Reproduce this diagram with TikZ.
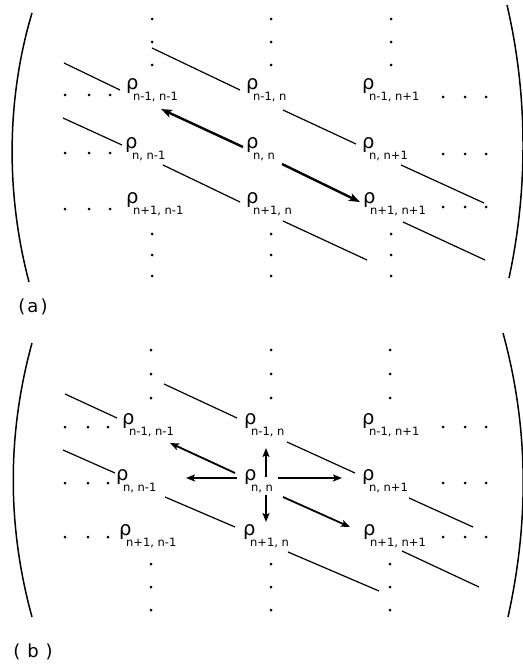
\documentclass[tikz,border=0pt]{standalone}
\usepackage{fontspec}
\setmainfont{DejaVu Sans}
\usetikzlibrary{arrows.meta,calc}
\newcommand{\ent}[1]{{\fontsize{19.5}{19.5}\selectfont ρ}\kern-5.5pt\raisebox{-11pt}{\fontsize{11.5}{11.5}\selectfont #1}}
\begin{document}
\begin{tikzpicture}[x=1pt,y=-1pt,
  entry/.style={inner sep=0pt, anchor=base west},
  link/.style={line width=1.2pt},
  arra/.style={line width=2.4pt, -{Stealth[length=11pt,width=8pt,inset=2.5pt]}},
  arrb/.style={line width=1.8pt, -{Stealth[length=9pt,width=7pt,inset=2pt]}},
  paren/.style={line width=1.5pt},
  lbl/.style={inner sep=0pt, font=\fontsize{18}{18}\selectfont}]
\useasboundingbox (0,0) rectangle (522,666);

% ---------- panel (a) ----------
\node[entry] (a11) at (126,90) {\ent{n-1, n-1}};
\node[entry] (a12) at (246,90) {\ent{n-1, n}};
\node[entry] (a13) at (362,90) {\ent{n-1, n+1}};
\node[entry] (a21) at (125,148) {\ent{n, n-1}};
\node[entry] (a22) at (246,148) {\ent{n, n}};
\node[entry] (a23) at (362,148) {\ent{n, n+1}};
\node[entry] (a31) at (126,203) {\ent{n+1, n-1}};
\node[entry] (a32) at (246,203) {\ent{n+1, n}};
\node[entry] (a33) at (363,203) {\ent{n+1, n+1}};

\foreach \y in {95,153,209} \foreach \x in {65,89,110} \fill (\x,\y) circle (1.5pt);
\foreach \y in {97,154,207} \foreach \x in {443,465,486} \fill (\x,\y) circle (1.5pt);
\foreach \x in {152,271,391} \foreach \y in {19,42,65,234,255,276} \fill (\x,\y) circle (1.5pt);

\draw[link] ($(a11.base west)+(-62,-27)$) -- ($(a11.base west)+(-6,0)$);
\draw[link] ($(a12.base west)+(-94,-42)$) -- ($(a12.base west)+(-6,0)$);
\draw[link] ($(a21.base west)+(-62,-30)$) -- ($(a21.base west)+(-3,-3)$);
\draw[link] ($(a12.base west)+(37,20)$) -- ($(a23.base west)+(-6,-4)$);
\draw[link] ($(a21.base west)+(38,17)$) -- ($(a32.base west)+(-6,-1)$);
\draw[link] ($(a23.base west)+(39,17)$) -- ($(a23.base west)+(122,55)$);
\draw[link] ($(a32.base west)+(37,18)$) -- ($(a32.base west)+(121,57)$);
\draw[link] ($(a33.base west)+(40,19)$) -- ($(a33.base west)+(122,57)$);

\draw[arra] ($(a22.base west)+(-3,-1)$) -- ($(a11.base west)+(35,19)$);
\draw[arra] ($(a22.base west)+(36,16)$) -- ($(a33.base west)+(-3,-1)$);

\draw[paren] (32,13) .. controls (6,100) and (6,195) .. (29,282);
\draw[paren] (507,5) .. controls (528,95) and (528,190) .. (509,278);
\node[lbl] (la) at (33,307) {(\kern2pt a\kern2pt)};

% ---------- panel (b) ----------
\node[entry] (b11) at (122,424) {\ent{n-1, n-1}};
\node[entry] (b12) at (244,424) {\ent{n-1, n}};
\node[entry] (b13) at (362,424) {\ent{n-1, n+1}};
\node[entry] (b21) at (116,480) {\ent{n, n-1}};
\node[entry] (b22) at (244,480) {\ent{n, n}};
\node[entry] (b23) at (362,480) {\ent{n, n+1}};
\node[entry] (b31) at (119,535) {\ent{n+1, n-1}};
\node[entry] (b32) at (243,535) {\ent{n+1, n}};
\node[entry] (b33) at (363,535) {\ent{n+1, n+1}};

\foreach \y in {427,483,537} \foreach \x in {65,88,108} \fill (\x,\y) circle (1.5pt);
\foreach \y in {427,483,537} \foreach \x in {443,465,486} \fill (\x,\y) circle (1.5pt);
\foreach \x in {151,271,390} \foreach \y in {350,374,398,564,587,610} \fill (\x,\y) circle (1.5pt);

\draw[link] ($(b11.base west)+(-57,-30)$) -- ($(b11.base west)+(-5,-6)$);
\draw[link] ($(b12.base west)+(-80,-40)$) -- ($(b12.base west)+(-7,-6)$);
\draw[link] ($(b21.base west)+(-53,-30)$) -- ($(b21.base west)+(-1,-7)$);
\draw[link] ($(b12.base west)+(43,18)$) -- ($(b23.base west)+(-7,-7)$);
\draw[link] ($(b21.base west)+(49,17)$) -- ($(b32.base west)+(-8,-8)$);
\draw[link] ($(b23.base west)+(47,18)$) -- ($(b23.base west)+(111,47)$);
\draw[link] ($(b32.base west)+(45,17)$) -- ($(b32.base west)+(136,56)$);
\draw[link] ($(b33.base west)+(39,16)$) -- ($(b33.base west)+(116,52)$);

\draw[arrb] ($(b22.base west)+(-9,-7)$) -- ($(b11.base west)+(48,19)$);
\draw[arrb] ($(b22.base west)+(-7,-2)$) -- ($(b21.base west)+(70,-2)$);
\draw[arrb] ($(b22.base west)+(22,-3)$) -- ($(b12.base west)+(22,24)$);
\draw[arrb] ($(b22.base west)+(34,-2)$) -- ($(b23.base west)+(-20,-2)$);
\draw[arrb] ($(b22.base west)+(22,15)$) -- ($(b32.base west)+(23,-13)$);
\draw[arrb] ($(b22.base west)+(39,17)$) -- ($(b33.base west)+(-13,-8)$);

\draw[paren] (32,343) .. controls (7,434) and (7,526) .. (32,617);
\draw[paren] (503,333) .. controls (529,428) and (529,522) .. (508,617);
\node[lbl] (lb) at (33,652) {(\kern7pt b\kern7pt)};
\end{tikzpicture}
\end{document}
